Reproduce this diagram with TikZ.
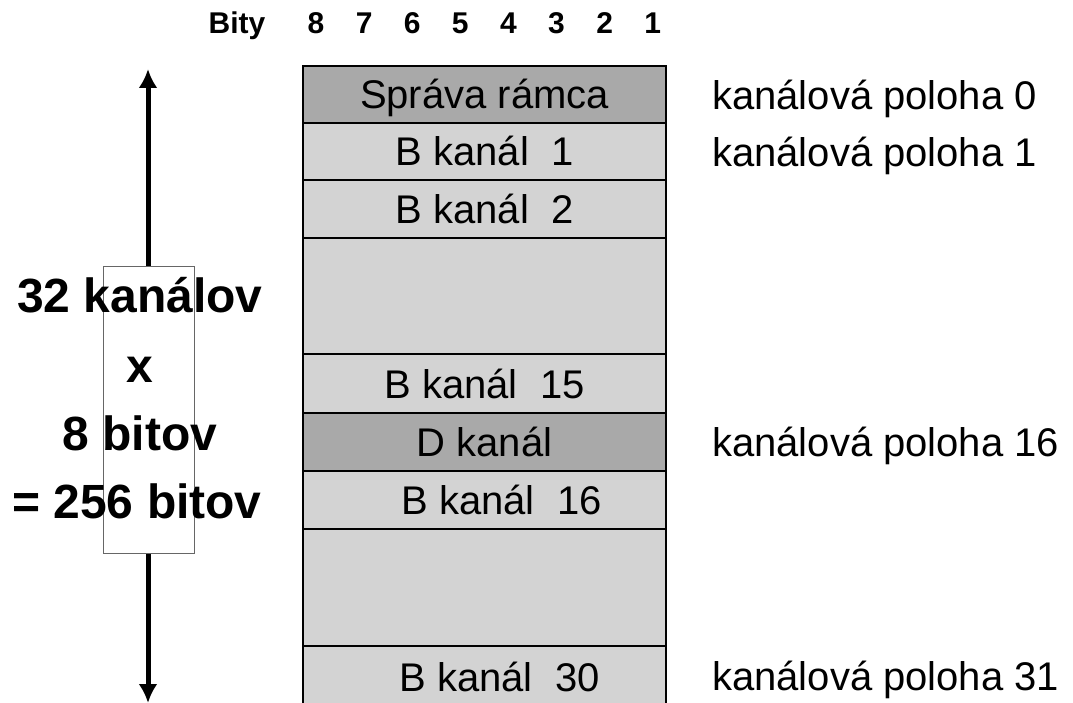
\documentclass[tikz,border=0pt]{standalone}
\usepackage{fontspec}
\setmainfont{Liberation Sans}
\usetikzlibrary{arrows.meta}
\definecolor{darkcell}{HTML}{A9A9A9}
\definecolor{lightcell}{HTML}{D3D3D3}
\tikzset{
  cell/.style={draw=black, line width=2pt, fill=lightcell, minimum width=363pt, inner sep=0pt,
    font=\fontsize{40}{48}\selectfont, text height=29pt, text depth=0pt},
  darkcell/.style={cell, fill=darkcell},
  poloha/.style={anchor=west, inner sep=0pt, font=\fontsize{40}{48}\selectfont, text height=29pt, text depth=0pt},
  sumtext/.style={inner sep=0pt, font=\fontsize{48}{56}\selectfont\bfseries, text height=34pt, text depth=0pt},
  bittext/.style={inner sep=0pt, font=\fontsize{30}{36}\selectfont\bfseries, text height=21.5pt, text depth=0pt},
}

\begin{document}
\begin{tikzpicture}[x=1pt,y=-1pt]
  \useasboundingbox (0,0) rectangle (1073,703);
  \clip (0,0) rectangle (1073,703); % Clips the picture...

  % header
  \node[bittext] (bity) at (237,23) {Bity};
  \foreach \b in {8,...,1}
    \node[bittext] (bit\b) at ({316+(8-\b)*48.1},23) {\b};

  % frame
  \node[darkcell, minimum height=57pt] (r0) at (484.5,94.5) {Správa rámca};
  \node[cell, minimum height=57pt] (r1) at (484.5,151.5) {B kanál\ \ 1};
  \node[cell, minimum height=58pt] (r2) at (484.5,209) {B kanál\ \ 2};
  \node[cell, minimum height=116pt] (r3) at (484.5,296) {};
  \node[cell, minimum height=59pt] (r4) at (484.5,383.5) {B kanál\ \ 15};
  \node[darkcell, minimum height=58pt] (r5) at (484.5,442) {D kanál};
  \node[cell, minimum height=58pt] (r6) at (484.5,500) {\hspace*{34pt}B kanál\ \ 16};
  \node[cell, minimum height=117pt] (r7) at (484.5,587.5) {};
  \node[cell, minimum height=62pt] (r8) at (484.5,677) {\hspace*{30pt}B kanál\ \ 30};

  % positions
  \node[poloha] (p0) at (712,95) {kanálová poloha 0};
  \node[poloha] (p1) at (712,152) {kanálová poloha 1};
  \node[poloha] (p16) at (712,442) {kanálová poloha 16};
  \node[poloha] (p31) at (712,676) {kanálová poloha 31};

  % arrow and sum
  \coordinate (atop) at (148,69);
  \coordinate (abot) at (148,703);
  \draw[line width=5pt, {Latex[length=19pt,width=19pt]}-{Latex[length=19pt,width=19pt]}] (atop) -- (abot);
  \node[draw=black!60, line width=1pt, fill=white, minimum width=91pt, minimum height=286pt] (sumbox) at (148.5,410) {};
  \node[sumtext] (sum1) at (140,295) {32 kanálov};
  \node[sumtext] (sum2) at (140,365) {x};
  \node[sumtext] (sum3) at (140,433) {8 bitov};
  \node[sumtext] (sum4) at (137,501) {= 256 bitov};
\end{tikzpicture}
\end{document}
